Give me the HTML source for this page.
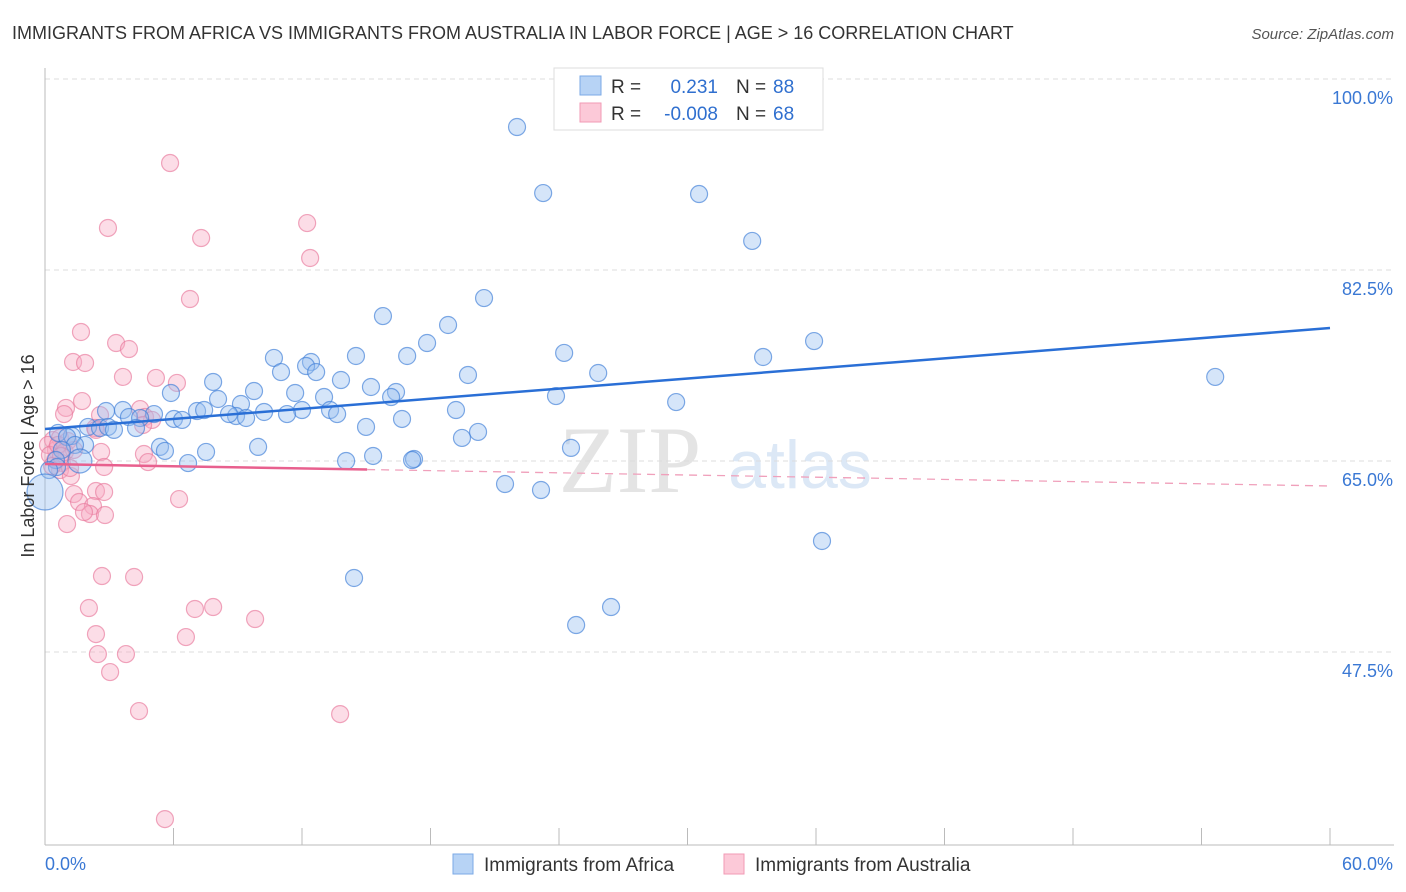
<!DOCTYPE html>
<html><head><meta charset="utf-8"><style>
body{margin:0;background:#fff;font-family:"Liberation Sans",sans-serif;}
#wrap{position:relative;width:1406px;height:892px;overflow:hidden}
</style></head><body>
<div id="wrap">
<svg id="chart" width="1406" height="892" xmlns="http://www.w3.org/2000/svg">
<text x="12" y="39" font-size="18" fill="#333">IMMIGRANTS FROM AFRICA VS IMMIGRANTS FROM AUSTRALIA IN LABOR FORCE | AGE &gt; 16 CORRELATION CHART</text>
<text x="1394" y="39" font-size="15" fill="#555" font-style="italic" text-anchor="end">Source: ZipAtlas.com</text>
<text x="630" y="492" font-size="95" fill="#e4e4e4" font-family="Liberation Serif,serif" text-anchor="middle">ZIP</text>
<text x="800" y="488" font-size="68" fill="#dce8f6" text-anchor="middle">atlas</text>
<g id="grid"></g><g id="axes"></g><g id="pink"></g><g id="blue"></g><g id="trends"></g>
<text transform="translate(34,456) rotate(-90)" font-size="18" fill="#333" text-anchor="middle">In Labor Force | Age &gt; 16</text>
<g>
<rect x="554" y="68" width="269" height="62" fill="#fff" stroke="#ddd"/>
<rect x="580" y="76" width="21" height="19" fill="#b7d3f5" stroke="#7ba9e6"/>
<rect x="580" y="103" width="21" height="19" fill="#fcc9d8" stroke="#f29ab5"/>
<text x="611" y="93" font-size="19" fill="#333">R =</text><text x="718" y="93" font-size="19" fill="#2f6fcf" text-anchor="end">0.231</text>
<text x="736" y="93" font-size="19" fill="#333">N =</text><text x="773" y="93" font-size="19" fill="#2f6fcf">88</text>
<text x="611" y="120" font-size="19" fill="#333">R =</text><text x="718" y="120" font-size="19" fill="#2f6fcf" text-anchor="end">-0.008</text>
<text x="736" y="120" font-size="19" fill="#333">N =</text><text x="773" y="120" font-size="19" fill="#2f6fcf">68</text>
</g>
<g>
<rect x="453" y="854" width="20" height="20" fill="#b7d3f5" stroke="#7ba9e6"/>
<text x="484" y="871" font-size="19" fill="#333">Immigrants from Africa</text>
<rect x="724" y="854" width="20" height="20" fill="#fcc9d8" stroke="#f29ab5"/>
<text x="755" y="871" font-size="19" fill="#333">Immigrants from Australia</text>
</g>
</svg>
</div>
<script>
const blueX=[22.04,23.26,30.54,33.02,20.50,15.78,18.82,35.91,17.84,14.52,24.24,16.91,33.53,10.69,12.42,12.19,11.02,12.66,25.83,19.75,54.64,7.85,13.82,15.22,5.88,9.76,16.39,11.68,16.16,23.86,13.03,8.08,9.15,29.47,19.19,7.10,7.43,3.64,5.09,10.23,12.00,11.30,13.31,13.64,2.85,8.92,8.59,9.39,6.02,6.40,16.67,3.92,4.44,14.99,2.01,2.57,2.94,3.22,20.22,4.25,19.47,1.26,0.61,1.03,5.37,9.95,5.60,7.52,24.56,1.87,1.40,0.79,15.32,17.23,17.14,14.06,6.68,0.51,1.63,21.48,23.16,0.56,0.19,0.0,36.28,14.43,26.43,24.80];
const blueY=[97.25,91.20,91.11,86.81,81.58,79.93,79.11,77.64,77.46,76.27,76.55,76.27,76.18,76.09,75.72,75.35,74.80,74.80,74.71,74.53,74.35,73.89,74.07,73.43,72.88,73.06,72.97,72.88,72.51,72.60,72.51,72.33,71.87,72.05,71.32,71.23,71.32,71.32,70.95,71.14,71.32,70.95,71.32,70.95,71.23,70.77,70.95,70.59,70.50,70.41,70.50,70.68,70.59,69.77,69.77,69.67,69.77,69.50,69.31,69.67,68.76,68.94,69.22,68.85,67.94,67.94,67.57,67.48,67.85,68.12,68.12,67.66,67.11,66.83,66.74,66.65,66.46,66.74,66.65,64.54,63.99,66.10,65.82,63.81,59.32,55.93,53.27,51.62];
const blueR=[8.5,8.5,8.5,8.5,8.5,8.5,8.5,8.5,8.5,8.5,8.5,8.5,8.5,8.5,8.5,8.5,8.5,8.5,8.5,8.5,8.5,8.5,8.5,8.5,8.5,8.5,8.5,8.5,8.5,8.5,8.5,8.5,8.5,8.5,8.5,8.5,8.5,8.5,8.5,8.5,8.5,8.5,8.5,8.5,8.5,8.5,8.5,8.5,8.5,8.5,8.5,8.5,8.5,8.5,8.5,8.5,8.5,8.5,8.5,8.5,8.5,8.5,8.5,8.5,8.5,8.5,8.5,8.5,8.5,8.5,8.5,8.5,8.5,8.5,8.5,8.5,8.5,8.5,12,8.5,8.5,8.5,8.5,18,8.5,8.5,8.5,8.5];
const pinkX=[5.84,2.94,7.29,12.24,12.38,6.77,1.68,3.32,3.92,1.31,1.87,3.64,5.18,6.16,0.98,0.89,1.73,2.57,4.44,4.67,5.00,2.34,2.38,0.37,0.70,1.07,0.51,0.93,1.35,0.14,0.47,0.79,2.62,2.76,0.70,1.21,4.62,4.81,4.58,2.38,2.76,1.35,1.59,2.24,6.26,2.10,2.80,1.82,1.03,2.66,4.16,2.05,7.00,7.85,2.38,6.58,9.81,2.47,3.78,3.04,4.39,13.78,5.60,0.23,0.61,0.33,1.17,0.75];
const pinkY=[93.95,88.00,87.08,88.45,85.25,81.49,78.47,77.46,76.91,75.72,75.63,74.35,74.26,73.80,71.51,70.95,72.14,70.86,71.41,70.68,70.41,69.67,69.50,68.57,68.76,68.48,67.66,67.48,67.66,68.12,66.74,66.46,67.48,66.10,65.82,65.27,67.29,66.55,69.95,63.90,63.81,63.62,62.89,62.52,63.16,61.79,61.70,61.97,60.87,56.11,56.02,53.18,53.09,53.27,50.79,50.52,52.17,48.96,48.96,47.31,43.74,43.46,33.84,67.20,68.12,66.19,66.01,67.11];
const blueTrend=[69.58,78.83];
const pinkTrend=[66.37,64.36];
const pinkSolidEnd=15.04;
const yTicks=[100,82.5,65,47.5];
const yTickLabels=["100.0%","82.5%","65.0%","47.5%"];
const xTicks=[0,6,12,18,24,30,36,42,48,54,60];
const NS="http://www.w3.org/2000/svg";
const sx=v=>45+v*(1285/60);
const sy=v=>97+(100-v)*(191/17.5);
function mk(tag,attrs,parent){const e=document.createElementNS(NS,tag);for(const k in attrs)e.setAttribute(k,attrs[k]);document.getElementById(parent).appendChild(e);return e;}
yTicks.forEach((t,i)=>{
  const g=mk('line',{x1:45,x2:1394,y1:sy(t)-18,y2:sy(t)-18,stroke:'#ddd','stroke-dasharray':'5,4'},'grid');
  
  
  const l=mk('text',{x:1393,y:sy(t)+7,'font-size':18,fill:'#3a78d4','text-anchor':'end'},'grid');
  l.textContent=yTickLabels[i];
  
  
});
const ax=mk('line',{x1:45,x2:45,y1:68,y2:845,stroke:'#bbb'},'axes');


const bx=mk('line',{x1:45,x2:1394,y1:845,y2:845,stroke:'#bbb'},'axes');


xTicks.forEach(t=>{
  const k=mk('line',{x1:sx(t),x2:sx(t),y1:828,y2:845,stroke:'#bbb'},'axes');
  
  
});
const xl0=mk('text',{x:45,y:870,'font-size':18,fill:'#3a78d4'},'axes');xl0.textContent=xTicks[0].toFixed(1)+'%';


const xl1=mk('text',{x:1393,y:870,'font-size':18,fill:'#3a78d4','text-anchor':'end'},'axes');xl1.textContent=xTicks[xTicks.length-1].toFixed(1)+'%';


pinkX.forEach((x,i)=>{
  const c=mk('circle',{cx:sx(x),cy:sy(pinkY[i]),r:8.5,fill:'rgba(248,170,195,0.4)',stroke:'rgba(232,120,155,0.65)','stroke-width':1.2},'pink');
  
  
});
blueX.forEach((x,i)=>{
  const c=mk('circle',{cx:sx(x),cy:sy(blueY[i]),r:blueR[i],fill:'rgba(150,190,240,0.4)',stroke:'rgba(60,125,215,0.65)','stroke-width':1.2},'blue');
  
  
});
const pl=v=>pinkTrend[0]+(pinkTrend[1]-pinkTrend[0])*v/60;
const bt=mk('line',{x1:sx(0),y1:sy(blueTrend[0]),x2:sx(60),y2:sy(blueTrend[1]),stroke:'#2a6fd6','stroke-width':2.5},'trends');


const pt=mk('line',{x1:sx(0),y1:sy(pl(0)),x2:sx(pinkSolidEnd),y2:sy(pl(pinkSolidEnd)),stroke:'#e8608e','stroke-width':2.5},'trends');


const pd=mk('line',{x1:sx(pinkSolidEnd),y1:sy(pl(pinkSolidEnd)),x2:sx(60),y2:sy(pl(60)),stroke:'#f0a0bb','stroke-width':1.3,'stroke-dasharray':'8,6'},'trends');


</script>
</body></html>
